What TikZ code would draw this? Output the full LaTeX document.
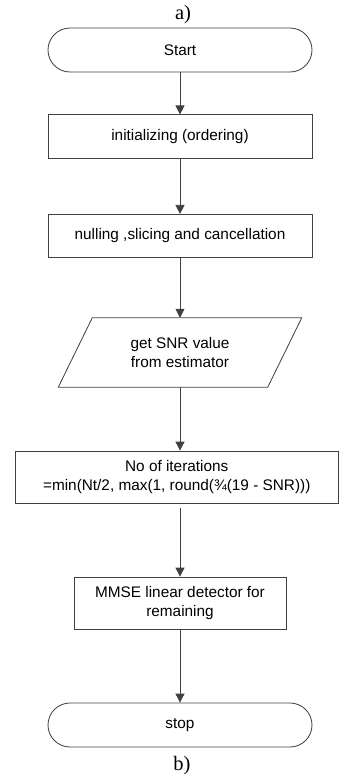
\documentclass[tikz,border=0pt]{standalone}
\usepackage{fontspec}
\setmainfont{Liberation Serif}
\newfontfamily\arialfont{Liberation Sans}
\usepackage{xcolor}
\usetikzlibrary{arrows.meta, positioning, calc}
\definecolor{linegray}{gray}{0.25}

\begin{document}
\begin{tikzpicture}[
    x=0.03cm, y=-0.03cm, % one unit = one pixel of the 339x778 layout
    % --- Styles ---
    box text/.style={font=\arialfont\fontsize{13.1}{16.2}\selectfont, align=center, text=black, inner sep=0pt},
    terminal/.style={box text, draw=linegray, line width=0.7pt, rounded corners=0.66cm, minimum width=7.92cm, minimum height=1.32cm},
    process/.style={box text, draw=linegray, line width=0.7pt, minimum width=7.92cm, minimum height=1.3cm},
    io text/.style={box text, minimum width=6.27cm, minimum height=2.07cm},
    flow/.style={-{Triangle[length=0.27cm, width=0.27cm]}, draw=linegray, line width=0.7pt},
    caption/.style={font=\fontsize{17.5}{20}\selectfont, inner sep=0pt}
]
    \useasboundingbox (0,0) rectangle (339,778);

    % Captions
    \node[caption] (capA) at (183,14.5) {a)};
    \node[caption] (capB) at (182,765.5) {b)};

    % --- Flow chart boxes ---
    \node[terminal] (start) at (180,50) {Start};
    \node[process] (init) at (180,136.5) {initializing (ordering)};
    \node[process] (null) at (180,236) {nulling ,slicing and cancellation};

    % input box (parallelogram drawn round the text node)
    \node[io text] (snr) at (180,352.5) {get SNR value\\from estimator};
    \draw[linegray, line width=0.7pt]
        ([xshift=0.51cm]snr.north west) -- ([xshift=0.51cm]snr.north east)
        -- ([xshift=-0.51cm]snr.south east) -- ([xshift=-0.51cm]snr.south west) -- cycle;

    \node[process, minimum width=9.705cm, minimum height=1.56cm] (iter) at (176.75,477)
        {No of iterations\\=min(Nt/2, max(1, round(¾(19 - SNR)))};
    \node[process, minimum width=6.36cm, minimum height=1.56cm] (mmse) at (180,603)
        {MMSE linear detector for\\remaining};
    \node[terminal] (stop) at (180,725) {stop};

    % --- Connectors ---
    \draw[flow] (start) -- (init);
    \draw[flow] (init) -- (null);
    \draw[flow] (null) -- (snr);
    \draw[flow] (snr.south) -- (snr.south |- iter.north);
    \draw[flow, shorten <=0.15cm] (iter.south -| mmse.north) -- (mmse);
    \draw[flow] (mmse) -- (stop);
\end{tikzpicture}
\end{document}
